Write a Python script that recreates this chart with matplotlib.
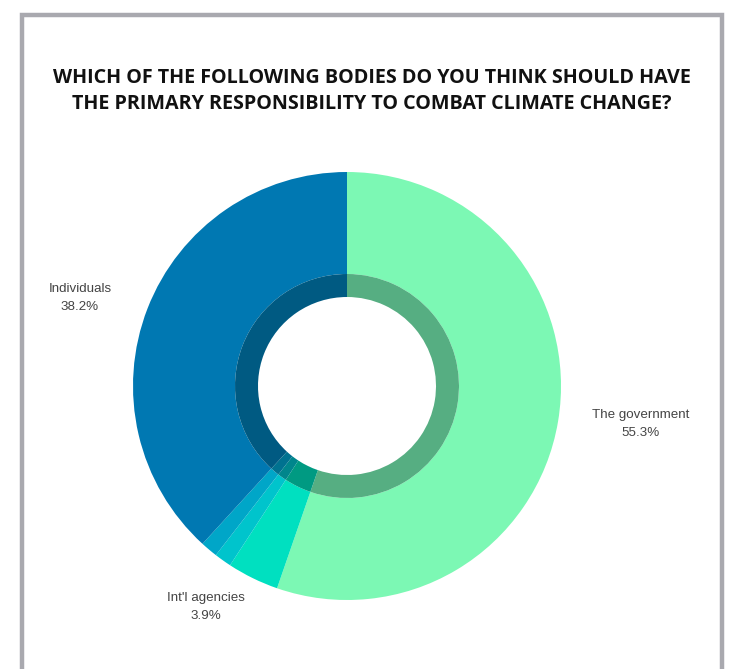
import matplotlib
matplotlib.use("Agg")
import matplotlib.pyplot as plt
from matplotlib.patches import Rectangle, Circle
import numpy as np

categories = ["The government", "Int'l agencies", "Other A", "Other B", "Individuals"]
values = [55.3, 3.9, 1.3, 1.3, 38.2]
outer_colors = ["#7cf8b4", "#00e0c0", "#00c4cc", "#00a6c8", "#0078b2"]
inner_colors = ["#56ae82", "#009a82", "#00868c", "#007290", "#005a82"]
label_text = {"The government": "The government\n55.3%",
              "Int'l agencies": "Int'l agencies\n3.9%",
              "Individuals": "Individuals\n38.2%"}
title = "WHICH OF THE FOLLOWING BODIES DO YOU THINK SHOULD HAVE\nTHE PRIMARY RESPONSIBILITY TO COMBAT CLIMATE CHANGE?"

W, H = 738, 669
fig = plt.figure(figsize=(W / 100, H / 100), dpi=100)
fig.patch.set_facecolor("white")
ax = fig.add_axes([0, 0, 1, 1])
ax.set_xlim(0, W)
ax.set_ylim(0, H)
ax.set_aspect("equal")
ax.axis("off")

cx, cy = 347, H - 386
R_out, R_mid, R_in = 214, 112, 89

ax.pie(values, colors=outer_colors, radius=R_out, center=(cx, cy),
       startangle=90, counterclock=False, frame=True,
       wedgeprops=dict(linewidth=0, width=R_out - R_mid))
ax.pie(values, colors=inner_colors, radius=R_mid, center=(cx, cy),
       startangle=90, counterclock=False, frame=True,
       wedgeprops=dict(linewidth=0, width=R_mid - R_in))
ax.set_xlim(0, W)
ax.set_ylim(0, H)
ax.axis("off")

# frame
ax.add_patch(Rectangle((22, -20), 700, H - 15 + 20, fill=False,
                       edgecolor="#a9a9af", linewidth=3.2, zorder=5))

fig.text(372 / W, 1 - 91 / H, title, ha="center", va="center",
         fontsize=14.2, fontweight="bold", family="Open Sans",
         color="#111111", linespacing=1.4)

lab_pos = {"The government": (641, 424),
           "Individuals": (80, 298),
           "Int'l agencies": (206, 607)}
for name, txt in label_text.items():
    x, y = lab_pos[name]
    ax.text(x, H - y, txt, ha="center", va="center", fontsize=9.6,
            family="Liberation Sans", color="#444444", linespacing=1.6)

fig.savefig("out.png", dpi=100, facecolor="white")
